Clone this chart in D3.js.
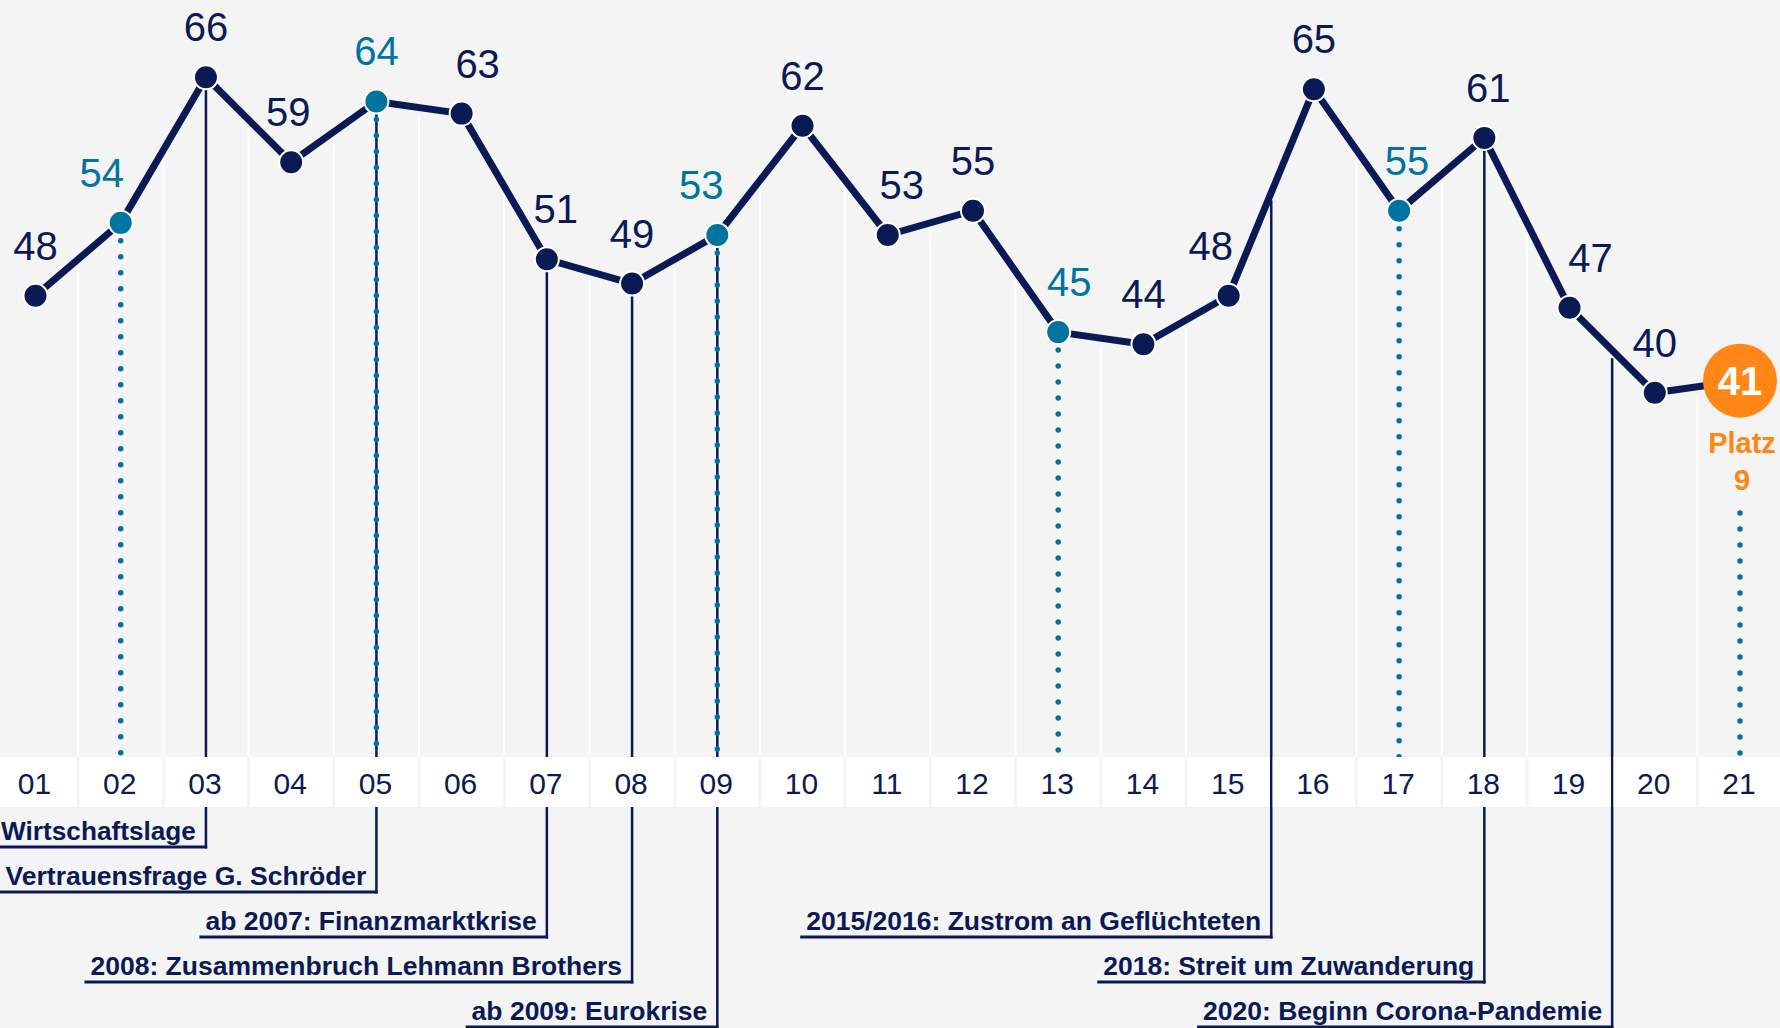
<!DOCTYPE html>
<html>
<head>
<meta charset="utf-8">
<script src="https://cdn.jsdelivr.net/npm/d3@7"></script>
<style>
  body { margin: 0; background: #f4f4f4; }
  svg { display: block; font-family: "Liberation Sans", Arial, sans-serif; }
</style>
</head>
<body>
<div id="graph"></div>
<script>
// data
var years = ["01","02","03","04","05","06","07","08","09","10","11","12","13","14","15","16","17","18","19","20","21"];
var values = [48, 54, 66, 59, 64, 63, 51, 49, 53, 62, 53, 55, 45, 44, 48, 65, 55, 61, 47, 40, 41];
var highlighted = ["02","05","09","13","17"];
var current = "21";
var rankLines = ["Platz", "9"];

// events below the axis (position on the year axis, .5 = between two years)
var eventTexts = [
  "Wirtschaftslage",
  "Vertrauensfrage G. Schröder",
  "ab 2007: Finanzmarktkrise",
  "2008: Zusammenbruch Lehmann Brothers",
  "ab 2009: Eurokrise",
  "2015/2016: Zustrom an Geflüchteten",
  "2018: Streit um Zuwanderung",
  "2020: Beginn Corona-Pandemie"
];
var eventAt = [3, 5, 7, 8, 9, 15.5, 18, 19.5];

// layout only
var eventRow = [0, 1, 2, 3, 4, 2, 3, 4];
var labelShift = [0,-19,0,-3,0,16,9,0,-16,0,14,0,11,0,-18,0,8,4,21,0,0];

var w = 1780, h = 1028;
var navy = "#0b1a55", teal = "#00739e", orange = "#ff8617";

var x = d3.scaleLinear().domain([1, 21]).range([35.5, 1740]);
var y = d3.scaleLinear().domain([40, 66]).range([392.8, 77.2]);
var row = d3.scaleLinear().domain([0, 4]).range([847, 1027]);
var step = x(2) - x(1);
var bandTop = 757, bandBottom = 807;

var points = years.map(function(d, i){ return {year: d, pos: i + 1, value: values[i]}; });

// y of the line at any (fractional) position
function yAt(p){
  var a = Math.floor(p), b = Math.ceil(p);
  if (a == b) return y(values[a - 1]);
  return y(values[a - 1]) + (y(values[b - 1]) - y(values[a - 1])) * (p - a);
}

var svg = d3.select('#graph').append('svg')
    .attr('width', w)
    .attr('height', h);

svg.append('rect')
    .attr('width', w)
    .attr('height', h)
    .attr('fill', '#f4f4f4');

// white separators between the years
svg.append('g')
    .selectAll('line')
    .data(d3.range(1.5, 21, 1))
    .enter()
    .append('line')
    .attr('x1', function(d){ return x(d); })
    .attr('x2', function(d){ return x(d); })
    .attr('y1', function(d){ return yAt(d) + 8; })
    .attr('y2', bandTop)
    .attr('stroke', '#fff')
    .attr('stroke-width', 2);

// event markers
var ev = svg.append('g')
    .selectAll('g')
    .data(eventTexts)
    .enter()
    .append('g');

ev.append('line')
    .attr('x1', function(d, i){ return x(eventAt[i]); })
    .attr('x2', function(d, i){ return x(eventAt[i]); })
    .attr('y1', function(d, i){ return eventAt[i] % 1 ? yAt(eventAt[i]) + 8 : yAt(eventAt[i]); })
    .attr('y2', function(d, i){ return row(eventRow[i]) + 1.5; })
    .attr('stroke', navy)
    .attr('stroke-width', 2.5);

ev.append('text')
    .attr('x', function(d, i){ return x(eventAt[i]) - 10; })
    .attr('y', function(d, i){ return row(eventRow[i]) - 7; })
    .attr('text-anchor', 'end')
    .attr('font-size', '26.5px')
    .attr('font-weight', 'bold')
    .attr('fill', navy)
    .text(function(d){ return d; });

ev.each(function(d, i){
  var g = d3.select(this);
  var t = g.select('text');
  var xe = x(eventAt[i]);
  var len = t.node().getComputedTextLength();
  // squeeze a label that would run past the left edge
  if (xe - 10 - len < 1) {
    len = xe - 11;
    t.attr('textLength', len).attr('lengthAdjust', 'spacingAndGlyphs');
  }
  g.append('line')
      .attr('x1', Math.max(0, xe - 10 - len - 6))
      .attr('x2', xe + 1.25)
      .attr('y1', row(eventRow[i]))
      .attr('y2', row(eventRow[i]))
      .attr('stroke', navy)
      .attr('stroke-width', 3);
});

// dotted drop lines for highlighted years
svg.append('g')
    .selectAll('line')
    .data(points.filter(function(d){ return highlighted.indexOf(d.year) >= 0; }))
    .enter()
    .append('line')
    .attr('x1', function(d){ return x(d.pos); })
    .attr('x2', function(d){ return x(d.pos); })
    .attr('y1', function(d){ return y(d.value) + 18; })
    .attr('y2', bandTop)
    .attr('stroke', teal)
    .attr('stroke-width', 5.5)
    .attr('stroke-linecap', 'round')
    .attr('stroke-dasharray', '0 16');

var last = points[points.length - 1];
svg.append('line')
    .attr('x1', x(last.pos))
    .attr('x2', x(last.pos))
    .attr('y1', 513)
    .attr('y2', bandTop)
    .attr('stroke', teal)
    .attr('stroke-width', 5.5)
    .attr('stroke-linecap', 'round')
    .attr('stroke-dasharray', '0 16');

// axis band
svg.append('g')
    .selectAll('rect')
    .data(points)
    .enter()
    .append('rect')
    .attr('x', function(d){ return x(d.pos) - step / 2 + 1.5; })
    .attr('width', function(d){ return d.year == current ? w - (x(d.pos) - step / 2 + 1.5) : step - 3; })
    .attr('y', bandTop)
    .attr('height', bandBottom - bandTop)
    .attr('fill', '#fff');

svg.append('g')
    .selectAll('text')
    .data(points)
    .enter()
    .append('text')
    .attr('x', function(d){ return x(d.pos) - 1; })
    .attr('y', 794)
    .attr('text-anchor', 'middle')
    .attr('font-size', '30px')
    .attr('fill', navy)
    .text(function(d){ return d.year; });

// line
svg.append('path')
    .datum(points)
    .attr('fill', 'none')
    .attr('stroke', navy)
    .attr('stroke-width', 7)
    .attr('stroke-linejoin', 'round')
    .attr('d', d3.line()
        .x(function(d){ return x(d.pos); })
        .y(function(d){ return y(d.value); }));

// dots
svg.append('g')
    .selectAll('circle')
    .data(points.filter(function(d){ return d.year != current; }))
    .enter()
    .append('circle')
    .attr('cx', function(d){ return x(d.pos); })
    .attr('cy', function(d){ return y(d.value); })
    .attr('r', 12)
    .attr('fill', function(d){ return highlighted.indexOf(d.year) >= 0 ? teal : navy; })
    .attr('stroke', '#fff')
    .attr('stroke-width', 2);

// value labels
svg.append('g')
    .selectAll('text')
    .data(points.filter(function(d){ return d.year != current; }))
    .enter()
    .append('text')
    .attr('x', function(d){ return x(d.pos) + labelShift[d.pos - 1]; })
    .attr('y', function(d){ return y(d.value) - 36; })
    .attr('text-anchor', 'middle')
    .attr('font-size', '40px')
    .attr('fill', function(d){ return highlighted.indexOf(d.year) >= 0 ? teal : navy; })
    .text(function(d){ return d.value; });

// current year
svg.append('circle')
    .attr('cx', x(last.pos))
    .attr('cy', y(last.value))
    .attr('r', 37)
    .attr('fill', orange);

svg.append('text')
    .attr('x', x(last.pos))
    .attr('y', y(last.value) + 14)
    .attr('text-anchor', 'middle')
    .attr('font-size', '40px')
    .attr('font-weight', 'bold')
    .attr('fill', '#fff')
    .text(last.value);

svg.append('g')
    .selectAll('text')
    .data(rankLines)
    .enter()
    .append('text')
    .attr('x', x(last.pos) + 2)
    .attr('y', function(d, i){ return 453 + i * 37; })
    .attr('text-anchor', 'middle')
    .attr('font-size', '29px')
    .attr('font-weight', 'bold')
    .attr('fill', orange)
    .text(function(d){ return d; });
</script>
</body>
</html>
